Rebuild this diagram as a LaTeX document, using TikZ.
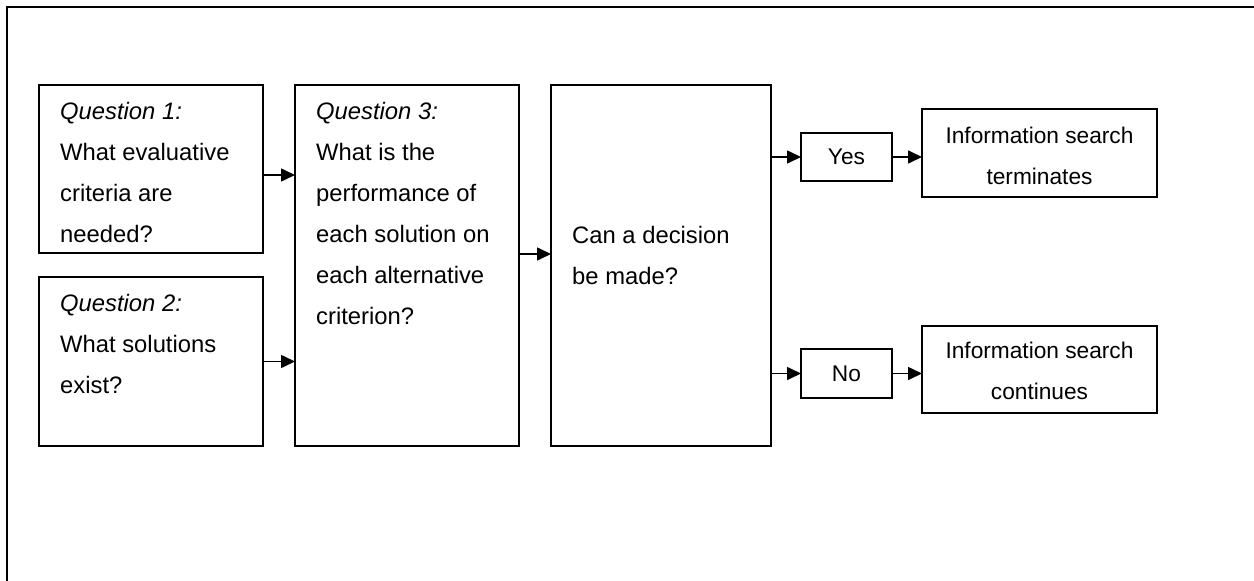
\documentclass[tikz,border=0pt]{standalone}
\usepackage{fontspec}
\setmainfont{Liberation Sans}
\usetikzlibrary{arrows.meta,calc}
% stacked lines with a fixed 41pt line pitch; the node baseline is the first line
\newcommand\leftstack[1]{\vtop{\baselineskip=41pt\lineskiplimit=-100pt\halign{##\hfil\cr#1\crcr}}}
\newcommand\centerstack[1]{\vtop{\baselineskip=41pt\lineskiplimit=-100pt\halign{\hfil##\hfil\cr#1\crcr}}}
\begin{document}
\begin{tikzpicture}[x=1pt,y=-1pt,
  box/.style={draw, line width=1.6pt, inner sep=0pt, outer sep=0pt, anchor=north west},
  txt/.style={inner sep=0pt, font=\fontsize{23.8}{41}\selectfont},
  rtxt/.style={inner sep=0pt, font=\fontsize{22.7}{41}\selectfont},
  arr/.style={line width=1.6pt, -{Triangle[length=14pt,width=13pt]}},
  frame/.style={line width=1.6pt}]
\useasboundingbox (0,0) rectangle (1254,581);
% outer frame, running off the page on the right and at the bottom
\begin{scope}
  \clip (0,0) rectangle (1254,581);
  \draw[frame] (1270,7) -- (7,7) -- (7,600);
\end{scope}

% boxes
\node[box, minimum width=224pt, minimum height=168pt] (q1) at (39,85) {};
\node[box, minimum width=224pt, minimum height=169pt] (q2) at (39,277) {};
\node[box, minimum width=224pt, minimum height=361pt] (q3) at (295,85) {};
\node[box, minimum width=220pt, minimum height=361pt] (dec) at (551,85) {};
\node[box, minimum width=91pt, minimum height=48pt, rtxt, draw, line width=1.6pt] (yes) at (801,133) {Yes};
\node[box, minimum width=91pt, minimum height=49pt, rtxt, draw, line width=1.6pt] (no) at (801,349) {No};
\node[box, minimum width=235pt, minimum height=88pt] (term) at (922,109) {};
\node[box, minimum width=235pt, minimum height=87pt] (cont) at (922,326) {};

% texts
\node[txt, anchor=base west] (q1t) at ([shift={(21pt,-34pt)}]q1.north west)
  {\leftstack{\textit{Question 1:}\cr What evaluative\cr criteria are\cr needed?}};
\node[txt, anchor=base west] (q2t) at ([shift={(21pt,-34pt)}]q2.north west)
  {\leftstack{\textit{Question 2:}\cr What solutions\cr exist?}};
\node[txt, anchor=base west] (q3t) at ([shift={(21pt,-34pt)}]q3.north west)
  {\leftstack{\textit{Question 3:}\cr What is the\cr performance of\cr each solution on\cr each alternative\cr criterion?}};
\node[txt, anchor=base west] (dect) at ([shift={(21pt,-158pt)}]dec.north west)
  {\leftstack{Can a decision\cr be made?}};
\node[rtxt, anchor=base] (termt) at ([yshift=-34pt]term.north)
  {\centerstack{Information search\cr terminates}};
\node[rtxt, anchor=base] (contt) at ([yshift=-32pt]cont.north)
  {\centerstack{Information search\cr continues}};

% connectors
\draw[arr] ([yshift=-6pt]q1.east) -- ([yshift=-6pt]q1.east -| q3.west);
\draw[arr] (q2.east) -- (q2.east -| q3.west);
\draw[arr] ([yshift=11.5pt]q3.east) -- ([yshift=11.5pt]q3.east -| dec.west);
\draw[arr] (yes.west -| dec.east) -- (yes.west);
\draw[arr] (yes.east) -- (yes.east -| term.west);
\draw[arr] (no.west -| dec.east) -- (no.west);
\draw[arr] (no.east) -- (no.east -| cont.west);
\end{tikzpicture}
\end{document}
